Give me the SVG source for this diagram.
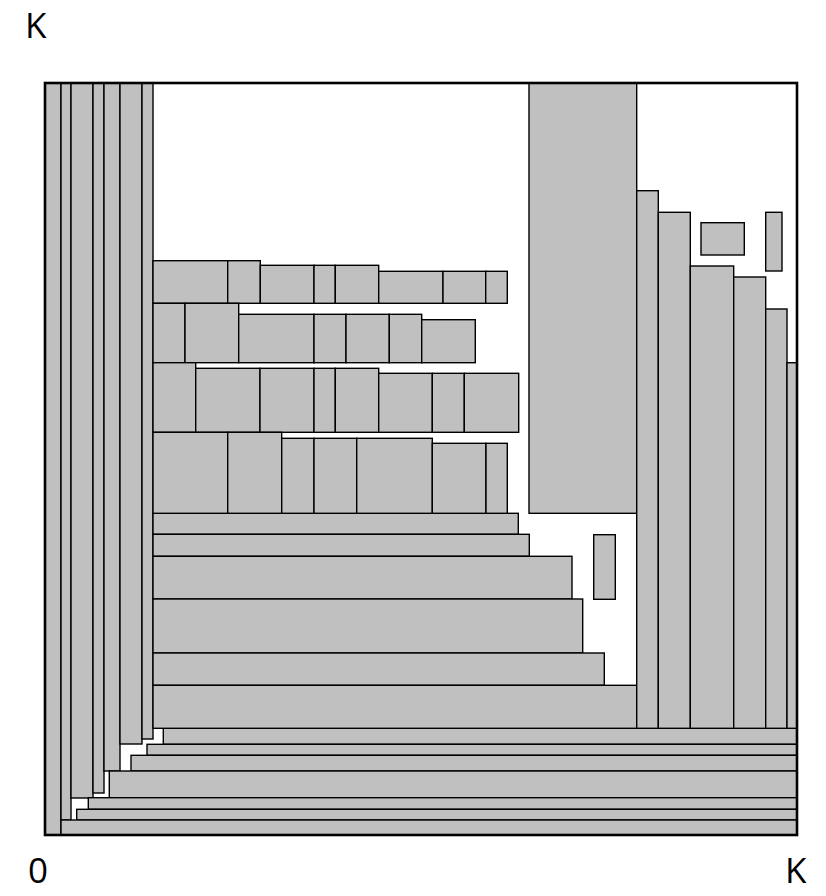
<svg xmlns="http://www.w3.org/2000/svg" width="826" height="896" viewBox="0 0 826 896">
<style>
rect.b{fill:#c0c0c0;stroke:#000;stroke-width:1.4}
rect.frame{fill:none;stroke:#000;stroke-width:2.6}
text{font-family:"Open Sans","Noto Sans","Liberation Sans",sans-serif;font-size:35px;fill:#000}
</style>
<rect width="826" height="896" fill="#fff"/>
<g id="left-strips">
<rect class="b" x="45" y="83" width="16" height="752"/>
<rect class="b" x="61" y="83" width="10" height="737"/>
<rect class="b" x="71" y="83" width="22" height="715"/>
<rect class="b" x="93" y="83" width="11" height="710"/>
<rect class="b" x="104" y="83" width="16" height="688"/>
<rect class="b" x="120" y="83" width="22" height="661"/>
<rect class="b" x="142" y="83" width="11" height="656"/>
</g>
<g id="bottom-bars">
<rect class="b" x="163.3" y="728.3" width="633.7" height="16"/>
<rect class="b" x="147" y="744.3" width="650" height="11"/>
<rect class="b" x="131" y="755.3" width="666" height="15.7"/>
<rect class="b" x="109.3" y="771" width="687.7" height="26.7"/>
<rect class="b" x="88.3" y="797.7" width="708.7" height="11.6"/>
<rect class="b" x="76.7" y="809.3" width="720.3" height="10.7"/>
<rect class="b" x="61" y="820" width="736" height="15"/>
</g>
<g id="mid-bars">
<rect class="b" x="153" y="513.3" width="365.3" height="21"/>
<rect class="b" x="153" y="534.3" width="376.3" height="22"/>
<rect class="b" x="153" y="556.3" width="419" height="42.7"/>
<rect class="b" x="153" y="599" width="429.7" height="54"/>
<rect class="b" x="153" y="653" width="451.3" height="32.3"/>
<rect class="b" x="153" y="685.3" width="483.7" height="43"/>
</g>
<g id="row1">
<rect class="b" x="153" y="260.7" width="74.7" height="42.6"/>
<rect class="b" x="227.7" y="260.7" width="32.6" height="42.6"/>
<rect class="b" x="260.3" y="265.3" width="53.7" height="38"/>
<rect class="b" x="314" y="265.3" width="21.3" height="38"/>
<rect class="b" x="335.3" y="265.3" width="43.4" height="38"/>
<rect class="b" x="378.7" y="271.3" width="64.3" height="32"/>
<rect class="b" x="443" y="271.3" width="42.7" height="32"/>
<rect class="b" x="485.7" y="271.3" width="21.6" height="32"/>
</g>
<g id="row2">
<rect class="b" x="153" y="303.3" width="32" height="59.4"/>
<rect class="b" x="185" y="303.3" width="53.7" height="59.4"/>
<rect class="b" x="238.7" y="314.3" width="75.3" height="48.4"/>
<rect class="b" x="314" y="314.3" width="32" height="48.4"/>
<rect class="b" x="346" y="314.3" width="43.3" height="48.4"/>
<rect class="b" x="389.3" y="314.3" width="32.4" height="48.4"/>
<rect class="b" x="421.7" y="319.7" width="53.6" height="43"/>
</g>
<g id="row3">
<rect class="b" x="153" y="362.7" width="42.7" height="69.6"/>
<rect class="b" x="195.7" y="368.3" width="64.3" height="64"/>
<rect class="b" x="260" y="368.3" width="54" height="64"/>
<rect class="b" x="314" y="368.3" width="21.3" height="64"/>
<rect class="b" x="335.3" y="368.3" width="43.4" height="64"/>
<rect class="b" x="378.7" y="373.3" width="53.6" height="59"/>
<rect class="b" x="432.3" y="373.3" width="32" height="59"/>
<rect class="b" x="464.3" y="373.3" width="54.4" height="59"/>
</g>
<g id="row4">
<rect class="b" x="153" y="432.3" width="74.7" height="81"/>
<rect class="b" x="227.7" y="432.3" width="54" height="81"/>
<rect class="b" x="281.7" y="438.3" width="32.3" height="75"/>
<rect class="b" x="314" y="438.3" width="42.7" height="75"/>
<rect class="b" x="356.7" y="438.3" width="75.6" height="75"/>
<rect class="b" x="432.3" y="443.3" width="53.7" height="70"/>
<rect class="b" x="486" y="443.3" width="21.3" height="70"/>
</g>
<g id="tall-block">
<rect class="b" x="529" y="83" width="107.7" height="430.3"/>
</g>
<g id="small-block-mid">
<rect class="b" x="593.7" y="534.7" width="21.6" height="64.6"/>
</g>
<g id="right-strips">
<rect class="b" x="636.7" y="190.7" width="21.6" height="537.6"/>
<rect class="b" x="658.3" y="212.3" width="32" height="516"/>
<rect class="b" x="690.3" y="266" width="43.4" height="462.3"/>
<rect class="b" x="733.7" y="277" width="32" height="451.3"/>
<rect class="b" x="765.7" y="309" width="21.3" height="419.3"/>
<rect class="b" x="787" y="362.7" width="10" height="365.6"/>
</g>
<g id="small-blocks-right">
<rect class="b" x="701" y="222.7" width="43.3" height="32.3"/>
<rect class="b" x="765.7" y="212.3" width="16.3" height="58.7"/>
</g>
<g id="frame">
<rect class="frame" x="45" y="83" width="752" height="752"/>
</g>
<g id="labels">
<text x="25" y="38">K</text>
<text x="28" y="883">0</text>
<text x="785" y="883">K</text>
</g>
</svg>
